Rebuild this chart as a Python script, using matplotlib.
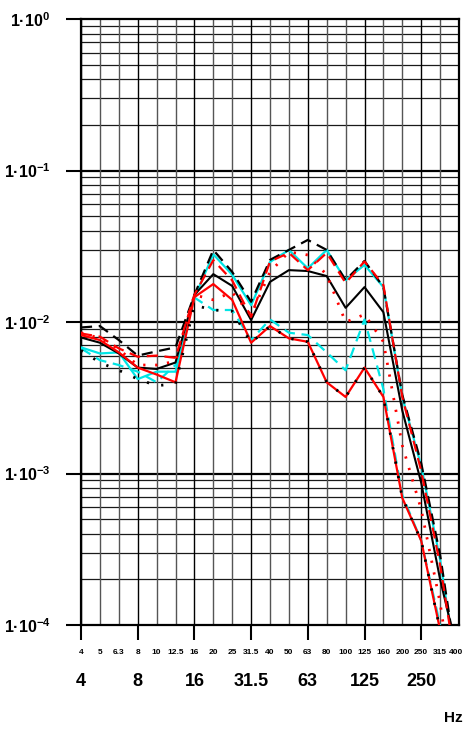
import matplotlib
matplotlib.use('Agg')
import matplotlib.pyplot as plt
from matplotlib.ticker import FixedLocator
import numpy as np

plt.rcParams['font.family'] = ['Liberation Sans', 'DejaVu Sans']
plt.rcParams['mathtext.fontset'] = 'custom'
plt.rcParams['mathtext.rm'] = 'Liberation Sans:bold'
plt.rcParams['mathtext.bf'] = 'Liberation Sans:bold'

# third-octave bands (Hz)
bands = ['4', '5', '6.3', '8', '10', '12.5', '16', '20', '25', '31.5', '40',
         '50', '63', '80', '100', '125', '160', '200', '250', '315', '400']
octave_bands = ['4', '8', '16', '31.5', '63', '125', '250']

# curves
black_solid = [0.0079, 0.0073, 0.0062, 0.0050, 0.0049, 0.0054, 0.0151, 0.0207,
               0.0173, 0.0103, 0.0184, 0.0220, 0.0217, 0.0201, 0.0124, 0.0170,
               0.0116, 0.0026, 0.00087, 0.0002, 0.00006]
black_dashed = [0.0092, 0.0094, 0.0076, 0.0060, 0.0064, 0.0068, 0.0151, 0.0299,
                0.0214, 0.0136, 0.0257, 0.0299, 0.0348, 0.0299, 0.0189, 0.0253,
                0.0170, 0.0033, 0.00117, 0.00029, 0.000044]
black_dotted = [0.0065, 0.0054, 0.0048, 0.0042, 0.0038, 0.0039, 0.0129, 0.0120,
                0.0118, 0.0073, 0.0094, 0.0078, 0.0074, 0.0040, 0.0032, 0.0050,
                0.0032, 0.00069, 0.00036, 0.000093, 0.00004]
red_solid = [0.0082, 0.0076, 0.0063, 0.0050, 0.0045, 0.0040, 0.0146, 0.0178,
             0.0140, 0.0073, 0.0094, 0.0078, 0.0074, 0.0040, 0.0032, 0.0050,
             0.0032, 0.00069, 0.00036, 0.000093, 0.00004]
red_dashed = [0.0084, 0.0080, 0.0067, 0.0059, 0.0060, 0.0058, 0.0151, 0.0256,
              0.0188, 0.0108, 0.0251, 0.0286, 0.0220, 0.0286, 0.0181, 0.0251,
              0.0175, 0.0032, 0.00104, 0.00025, 0.00004]
red_dotted = [0.0085, 0.0078, 0.0066, 0.0052, 0.0052, 0.0055, 0.0151, 0.0140,
              0.0157, 0.0111, 0.0214, 0.0290, 0.0277, 0.0205, 0.0100, 0.0112,
              0.0074, 0.00153, 0.00058, 0.00014, 0.00002]
cyan_solid = [0.0068, 0.0062, 0.0063, 0.0042, 0.0047, 0.0047, 0.0145, 0.0280,
              0.0205, 0.0129, 0.0249, 0.0299, 0.0226, 0.0299, 0.0189, 0.0238,
              0.0170, 0.0032, 0.00112, 0.00027, 0.00004]
cyan_dashed = [0.0067, 0.0056, 0.0052, 0.0047, 0.0040, 0.0052, 0.0145, 0.0120,
               0.0120, 0.0076, 0.0104, 0.0085, 0.0082, 0.0063, 0.0048, 0.0104,
               0.0036, 0.00072, 0.00036, 0.0001, 0.00004]

x = np.arange(len(bands))

fig = plt.figure(figsize=(4.64, 7.31), dpi=100)
ax = fig.add_axes([81 / 464, 106 / 731, 378 / 464, 606 / 731])
ax.set_yscale('log')
ax.set_ylim(1e-4, 1)
ax.set_xlim(0, len(bands) - 1)

# grid
minors = [m * 10.0 ** e for e in range(-4, 0) for m in range(2, 10)]
for v in minors:
    ax.axhline(v, color='#1a1a1a', lw=0.9, zorder=1)
for e in range(-3, 0):
    ax.axhline(10.0 ** e, color='black', lw=1.6, zorder=1)
for i, b in enumerate(bands):
    c = 'black' if b in octave_bands else '#555555'
    ax.axvline(i, color=c, lw=1.0, zorder=1)

dash = (0, (5, 3))
ax.plot(x, cyan_solid, color='#00e5e5', lw=1.6, zorder=3)
ax.plot(x, cyan_dashed, color='#00e5e5', lw=1.6, ls=dash, zorder=3)
ax.plot(x, black_solid, color='black', lw=1.5, zorder=4)
ax.plot(x, black_dashed, color='black', lw=1.6, ls=dash, zorder=3)
ax.plot(x, red_solid, color='red', lw=1.6, zorder=4)
ax.plot(x, red_dashed, color='red', lw=1.6, ls=dash, zorder=4)
ax.plot(x, red_dotted, color='red', lw=2.0, ls=(0, (0.8, 3.5)), zorder=4)
ax.plot(x, black_dotted, color='black', lw=2.0, ls=(0, (0.8, 4.5)), zorder=5)

for s in ax.spines.values():
    s.set_linewidth(1.6)

# y ticks
ax.yaxis.set_major_locator(FixedLocator([1e-4, 1e-3, 1e-2, 1e-1, 1]))
ax.yaxis.set_minor_locator(FixedLocator([]))
ax.set_yticklabels([r'1·10$^{-4}$', r'1·10$^{-3}$', r'1·10$^{-2}$',
                    r'1·10$^{-1}$', r'1·10$^{0}$'])
ax.tick_params(axis='y', length=11, width=1.5, pad=11, labelsize=11.5)
for t in ax.get_yticklabels():
    t.set_fontweight('bold')

# x ticks
ax.set_xticks([bands.index(b) for b in octave_bands])
ax.set_xticklabels([])
ax.tick_params(axis='x', length=11, width=1.5)

trans = ax.get_xaxis_transform()
for i, b in enumerate(bands[:-1]):
    ax.text(i, -0.045, b, transform=trans, ha='center', va='center',
            fontsize=6, fontweight='bold')
# last band label kept inside the figure edge
fig.text(463 / 464, 1 - 652 / 731, bands[-1], ha='right', va='center',
         fontsize=6, fontweight='bold')
for b in octave_bands:
    ax.text(bands.index(b), -0.094, b, transform=trans, ha='center', va='center',
            fontsize=13, fontweight='bold')
fig.text(463 / 464, 1 - 718 / 731, 'Hz', ha='right', va='center',
         fontsize=11, fontweight='bold')

plt.savefig('out.png', dpi=100)
